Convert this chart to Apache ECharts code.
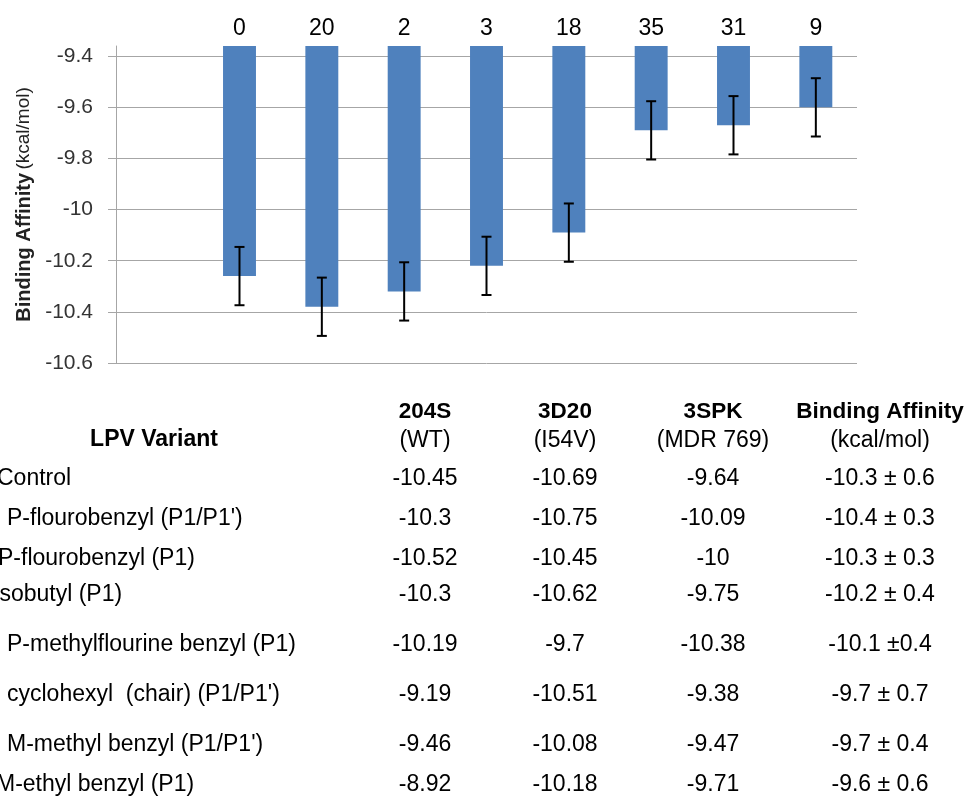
<!DOCTYPE html>
<html>
<head>
<meta charset="utf-8">
<script src="https://cdn.jsdelivr.net/npm/echarts@6/dist/echarts.min.js"></script>
<style>
  html, body { margin: 0; padding: 0; background: #ffffff; }
  #chart { width: 966px; height: 797px; }
</style>
</head>
<body>
<div id="chart"></div>
<script>
// LPV variants, in table / bar order
const variants = [
  'Control',
  "P-flourobenzyl (P1/P1')",
  'P-flourobenzyl (P1)',
  'Isobutyl (P1)',
  'P-methylflourine benzyl (P1)',
  "cyclohexyl  (chair) (P1/P1')",
  "M-methyl benzyl (P1/P1')",
  'M-ethyl benzyl (P1)'
];

// Count shown above each bar
const counts = [0, 20, 2, 3, 18, 35, 31, 9];

// Mean binding affinity (kcal/mol) and error bar half-width
const meanAffinity = [-10.26, -10.38, -10.32, -10.22, -10.09, -9.69, -9.67, -9.60];
const errorAmount = [0.114, 0.114, 0.114, 0.114, 0.114, 0.114, 0.114, 0.114];

// Per-structure docking results
const wt204S = [-10.45, -10.3, -10.52, -10.3, -10.19, -9.19, -9.46, -8.92];
const i54v3D20 = [-10.69, -10.75, -10.45, -10.62, -9.7, -10.51, -10.08, -10.18];
const mdr3SPK = [-9.64, -10.09, -10, -9.75, -10.38, -9.38, -9.47, -9.71];
const summary = [
  '-10.3 ± 0.6', '-10.4 ± 0.3', '-10.3 ± 0.3', '-10.2 ± 0.4',
  '-10.1 ±0.4', '-9.7 ± 0.7', '-9.7 ± 0.4', '-9.6 ± 0.6'
];

// Table headers
const headTop = ['204S', '3D20', '3SPK', 'Binding Affinity'];
const headSub = ['(WT)', '(I54V)', '(MDR 769)', '(kcal/mol)'];

// Y axis
const yTicks = [-10.6, -10.4, -10.2, -10, -9.8, -9.6, -9.4];
const yMin = -10.6;
const yMax = -9.36;

// ---- layout ----
const FONT = "'Liberation Sans', Arial, sans-serif";
const colX = [425, 565, 713, 880];
const rowY = [479, 519, 559, 595, 645, 695, 745, 785];
const rowIndent = [-3, 7, -2, -7, 7, 7, 7, -4];

// one leading empty slot on the category axis
const categories = [''].concat(variants);
const barData = ['-'].concat(meanAffinity);
const errData = meanAffinity.map((m, i) => [i + 1, m - errorAmount[i], m + errorAmount[i]]);

const graphics = [];
function addText(x, y, text, opts) {
  graphics.push({
    type: 'text',
    x: x, y: y,
    style: Object.assign({
      text: text,
      font: '23px ' + FONT,
      fill: '#000',
      align: 'center',
      verticalAlign: 'middle'
    }, opts || {})
  });
}
addText(154, 440, 'LPV Variant', { font: 'bold 23px ' + FONT });
headTop.forEach((t, i) => addText(colX[i], 412, t, { font: 'bold 22.5px ' + FONT }));
headSub.forEach((t, i) => addText(colX[i], 441, t));
variants.forEach((v, r) => {
  addText(rowIndent[r], rowY[r], v, { align: 'left' });
  addText(colX[0], rowY[r], String(wt204S[r]));
  addText(colX[1], rowY[r], String(i54v3D20[r]));
  addText(colX[2], rowY[r], String(mdr3SPK[r]));
  addText(colX[3], rowY[r], summary[r]);
});

const chart = echarts.init(document.getElementById('chart'), null, { renderer: 'canvas' });
chart.setOption({
  backgroundColor: '#ffffff',
  animation: false,
  grid: { left: 116, right: 109, top: 46, bottom: 434, containLabel: false },
  xAxis: {
    type: 'category',
    data: categories,
    axisLine: { show: false },
    axisTick: { show: false },
    axisLabel: { show: false },
    splitLine: { show: false }
  },
  yAxis: {
    type: 'value',
    min: yMin,
    max: yMax,
    axisLine: { show: true, lineStyle: { color: '#a6a6a6', width: 1 } },
    axisTick: { show: true, inside: false, length: 8, customValues: yTicks, lineStyle: { color: '#a6a6a6' } },
    axisLabel: {
      customValues: yTicks,
      margin: 23,
      fontSize: 21,
      fontFamily: FONT,
      color: '#333',
      formatter: v => String(Math.round(v * 10) / 10)
    },
    splitLine: { show: true, lineStyle: { color: '#a6a6a6', width: 1 } },
    name: '{b|Binding Affinity} {n|(kcal/mol)}',
    nameLocation: 'middle',
    nameGap: 82,
    nameTextStyle: {
      color: '#222',
      rich: {
        b: { fontSize: 20, fontWeight: 'bold', fontFamily: FONT, color: '#222' },
        n: { fontSize: 19, fontFamily: FONT, color: '#222' }
      }
    }
  },
  series: [
    {
      type: 'bar',
      data: barData,
      barWidth: '40%',
      itemStyle: { color: '#4f81bd' },
      label: {
        show: true,
        position: 'top',
        distance: 6,
        fontSize: 23,
        fontFamily: FONT,
        color: '#000',
        formatter: p => String(counts[p.dataIndex - 1])
      }
    },
    {
      type: 'custom',
      data: errData,
      encode: { x: 0, y: [1, 2] },
      z: 5,
      renderItem: function (params, api) {
        const lo = api.coord([api.value(0), api.value(1)]);
        const hi = api.coord([api.value(0), api.value(2)]);
        const hw = 5;
        const st = { stroke: '#000', lineWidth: 2 };
        return {
          type: 'group',
          children: [
            { type: 'line', shape: { x1: lo[0], y1: lo[1], x2: hi[0], y2: hi[1] }, style: st },
            { type: 'line', shape: { x1: lo[0] - hw, y1: lo[1], x2: lo[0] + hw, y2: lo[1] }, style: st },
            { type: 'line', shape: { x1: hi[0] - hw, y1: hi[1], x2: hi[0] + hw, y2: hi[1] }, style: st }
          ]
        };
      }
    }
  ],
  graphic: graphics
});
</script>
</body>
</html>
